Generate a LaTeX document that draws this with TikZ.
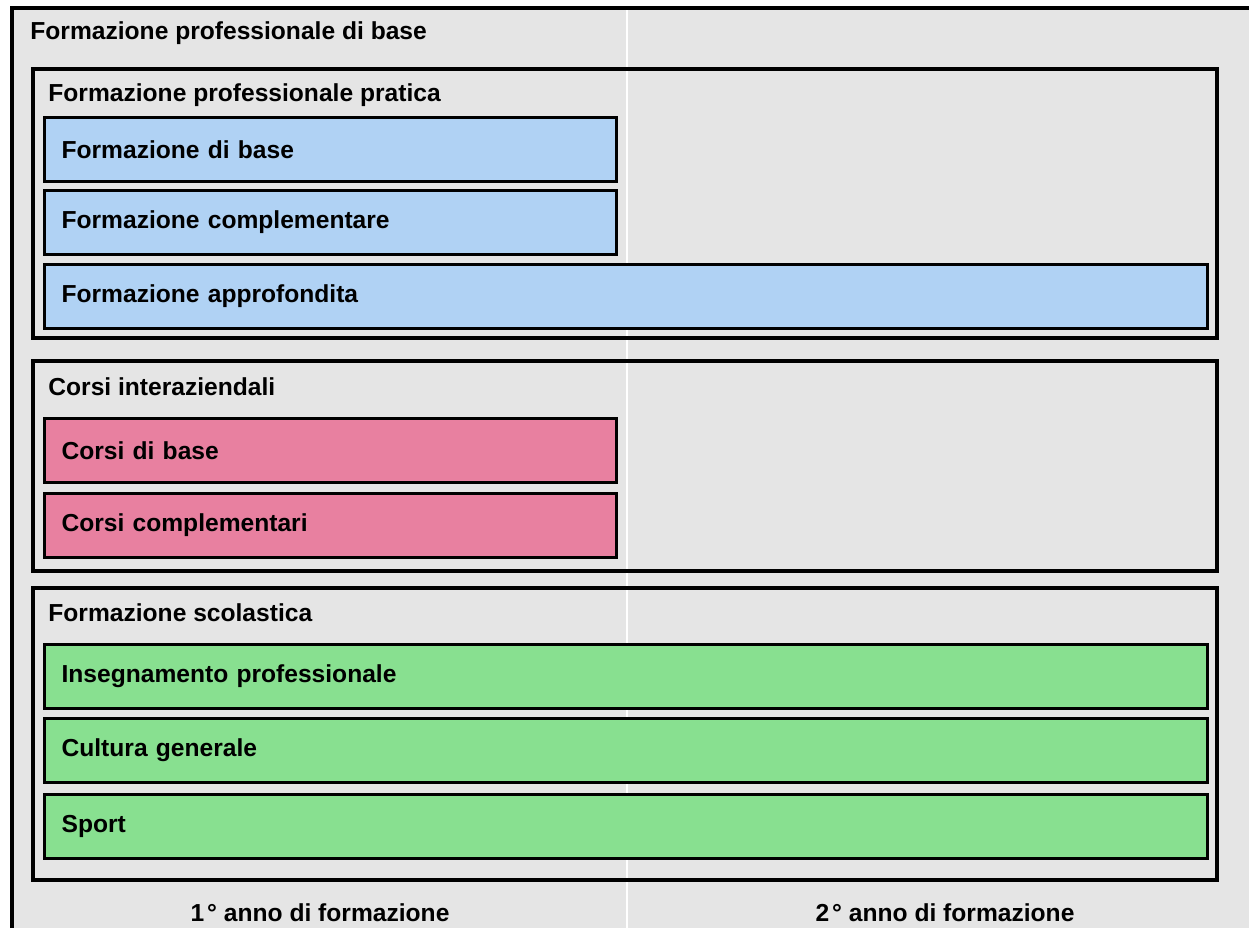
\documentclass[tikz,border=0pt]{standalone}
\usepackage{fontspec}
\setmainfont{Liberation Sans}
\definecolor{panelgrey}{RGB}{229,229,229}
\definecolor{pratblue}{RGB}{176,210,244}
\definecolor{corsipink}{RGB}{232,128,160}
\definecolor{scuolagreen}{RGB}{136,224,144}

\begin{document}
\begin{tikzpicture}[x=0.5pt, y=-0.5pt,
    label/.style={font=\bfseries\fontsize{12.3}{14}\selectfont, inner sep=0pt, anchor=west},
    frame/.style={draw, line width=1.6pt},
    box/.style={draw, line width=1.6pt, anchor=north west, inner xsep=8.5pt, inner ysep=0pt,
                minimum height=32pt, align=left, font=\bfseries\fontsize{12.3}{14}\selectfont},
    short/.style={box, text width=269pt},
    long/.style={box, text width=564.5pt}]
  \useasboundingbox (0,0) rectangle (1249,928);
  \fill[white] (0,0) rectangle (1249,928);
  \fill[panelgrey] (12,8) rectangle (1249,928);
  \draw[white, line width=1pt] (627,8) -- (627,928);
  \draw[line width=1.6pt] (12,928) -- (12,8) -- (1252,8);

  \node[label] (titolo) at (30,33) {Formazione professionale di base};

  % formazione pratica
  \draw[frame] (33,69) rectangle (1217,338);
  \node[label] (pratica) at (48,95) {Formazione professionale pratica};
  \node[short, fill=pratblue] (fbase) at (43,116) {Formazione di base};
  \node[short, fill=pratblue] (fcompl) at (43,189) {Formazione complementare};
  \node[long, fill=pratblue] (fappr) at (43,263) {Formazione approfondita};

  % corsi
  \draw[frame] (33,361) rectangle (1217,571);
  \node[label] (corsi) at (48,387) {Corsi interaziendali};
  \node[short, fill=corsipink] (cbase) at (43,417) {Corsi di base};
  \node[short, fill=corsipink] (ccompl) at (43,492) {Corsi complementari};

  % scuola
  \draw[frame] (33,588) rectangle (1217,880);
  \node[label] (scuola) at (48,613) {Formazione scolastica};
  \node[long, fill=scuolagreen] (sprof) at (43,643) {Insegnamento professionale};
  \node[long, fill=scuolagreen] (scult) at (43,717) {Cultura generale};
  \node[long, fill=scuolagreen] (ssport) at (43,793) {Sport};

  \node[label, anchor=center] (anno1) at (320,913) {1\kern1.5pt° anno di formazione};
  \node[label, anchor=center] (anno2) at (945,913) {2\kern1.5pt° anno di formazione};
\end{tikzpicture}
\end{document}
